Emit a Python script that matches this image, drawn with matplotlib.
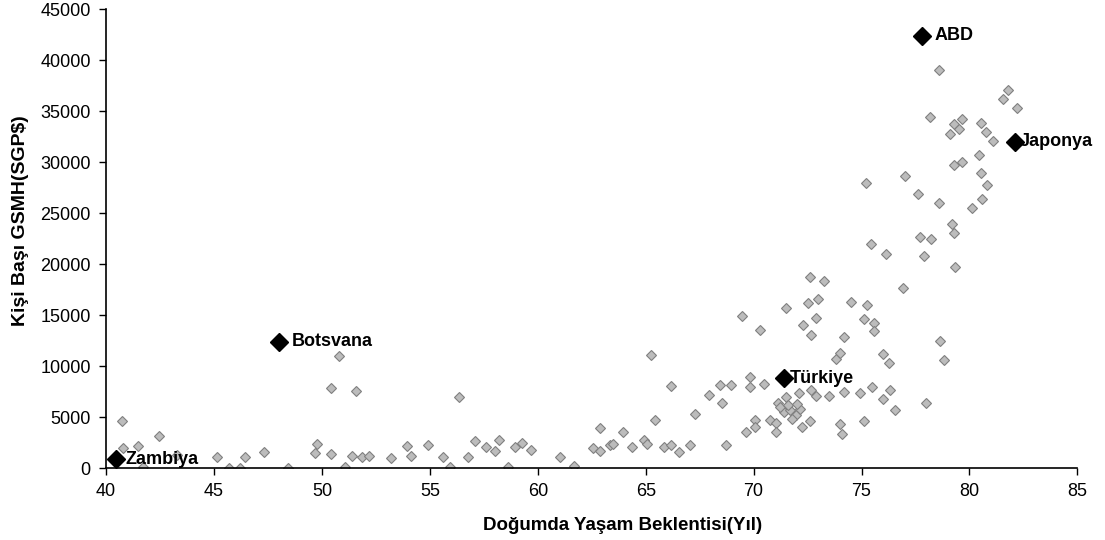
import matplotlib
matplotlib.use("Agg")
import matplotlib.pyplot as plt

plt.rcParams['font.family'] = ['Liberation Sans', 'DejaVu Sans']

# life expectancy (years) for the grey countries
life_exp = [40.75, 40.8, 41.5, 42.45, 41.7, 43.3, 45.15, 45.7, 46.2, 46.45,
            47.3, 48.45, 49.75, 49.7, 50.4, 50.8, 50.4, 51.6, 51.05, 51.4,
            51.85, 52.2, 53.2,
            53.95, 54.15, 54.9, 55.6, 55.95, 56.35, 56.75, 57.1, 57.6, 58.0,
            58.2, 58.6, 58.95, 59.25, 59.7, 61.05, 61.7, 62.9, 62.55, 62.9,
            63.35, 63.5, 63.95,
            64.35, 64.9, 65.05, 65.45, 65.25, 65.85, 66.15, 66.55, 67.05, 66.15,
            67.3, 67.95, 68.55, 68.45, 68.95, 68.7, 69.45, 70.3, 69.85, 69.85,
            70.5, 69.65, 70.05, 70.05, 70.75, 71.05, 71.05, 71.15, 71.5, 71.4,
            71.7, 71.95, 72.15, 71.8, 72.25, 72.6, 72.1, 72.65, 72.9, 73.5,
            71.5, 72.6, 73.25, 72.5, 73.0, 72.9, 72.3, 72.65, 73.8, 71.2,
            71.6, 72.0,
            75.45, 76.15, 77.9, 79.35, 76.9, 74.5, 75.25, 75.1, 75.6, 75.6,
            74.2, 74.0, 76.0, 76.25, 78.65, 78.8, 74.2, 74.95, 75.5, 76.3,
            76.0, 76.55, 78.0, 75.1, 74.0, 74.1,
            75.2, 77.6, 78.6, 80.8, 80.6, 80.1, 79.2, 79.3, 77.7, 78.2,
            78.6, 81.8, 81.55, 82.2, 78.15, 79.65, 79.3, 79.5, 79.1, 80.55,
            80.75, 81.1, 80.45, 79.3, 79.65, 80.55, 77.0]

# GDP per capita (PPP $) for the grey countries
gdp = [4650, 1950, 2150, 3150, 100, 1300, 1100, 50, 50, 1050,
       1550, 50, 2350, 1500, 7900, 11000, 1350, 7550, 80, 1200,
       1100, 1200, 950,
       2150, 1200, 2300, 1100, 130, 6950, 1100, 2650, 2100, 1650,
       2800, 130, 2050, 2500, 1750, 1050, 200, 3950, 1950, 1700,
       2300, 2400, 3550,
       2100, 2800, 2400, 4750, 11050, 2100, 2300, 1600, 2300, 8050,
       5350, 7150, 6350, 8150, 8150, 2300, 14900, 13500, 8950, 7950,
       8300, 3550, 4700, 4050, 4700, 4400, 3550, 6350, 7000, 5500,
       5700, 5200, 5850, 4850, 4050, 4600, 7400, 7650, 7100, 7100,
       15750, 18750, 18350, 16150, 16550, 14750, 14000, 13050, 10750, 6000,
       6200, 6300,
       21950, 21000, 20850, 19750, 17650, 16300, 15950, 14600, 14250, 13450,
       12850, 11300, 11150, 10300, 12450, 10650, 7500, 7400, 7950, 7650,
       6750, 5750, 6350, 4600, 4300, 3400,
       28000, 26850, 26000, 27750, 26350, 25500, 23900, 23100, 22650, 22500,
       39050, 37100, 36150, 35350, 34450, 34200, 33750, 33300, 32800, 33850,
       32950, 32100, 30700, 29700, 30050, 28900, 28650]

# highlighted countries
names = ['Zambiya', 'Botsvana', 'ABD', 'Japonya', 'Türkiye']
name_x = [40.45, 48.0, 77.8, 82.1, 71.4]
name_y = [900, 12400, 42400, 32000, 8800]
name_dx = [10, 13, 13, 5, 6]

fig = plt.figure(figsize=(11.05, 5.4), dpi=100)
ax = fig.add_axes([0.096, 0.133, 0.879, 0.850])

ax.plot(life_exp, gdp, linestyle='none', marker='D', markersize=5,
        markerfacecolor='#bcbcbc', markeredgecolor='#808080', markeredgewidth=0.8)
ax.plot(name_x, name_y, linestyle='none', marker='D', markersize=9,
        color='black')

for i in range(len(names)):
    ax.annotate(names[i], (name_x[i], name_y[i]), xytext=(name_dx[i], 0),
                textcoords='offset pixels', ha='left', va='center',
                fontsize=13, fontweight='bold')

ax.set_xlim(40, 85)
ax.set_ylim(0, 45000)
ax.set_xticks(range(40, 86, 5))
ax.set_yticks(range(0, 45001, 5000))
ax.tick_params(direction='out', length=5, width=1, labelsize=13, pad=6)

ax.spines['top'].set_visible(False)
ax.spines['right'].set_visible(False)
ax.spines['left'].set_linewidth(1.2)
ax.spines['bottom'].set_linewidth(1.2)

ax.set_xlabel('Doğumda Yaşam Beklentisi(Yıl)', fontsize=13.5,
              fontweight='bold')
ax.set_ylabel('Kişi Başı GSMH(SGP$)', fontsize=14, fontweight='bold')
ax.xaxis.set_label_coords(0.532, -0.106)
ax.yaxis.set_label_coords(-0.079, 0.54)

fig.savefig('out.png', dpi=100)
